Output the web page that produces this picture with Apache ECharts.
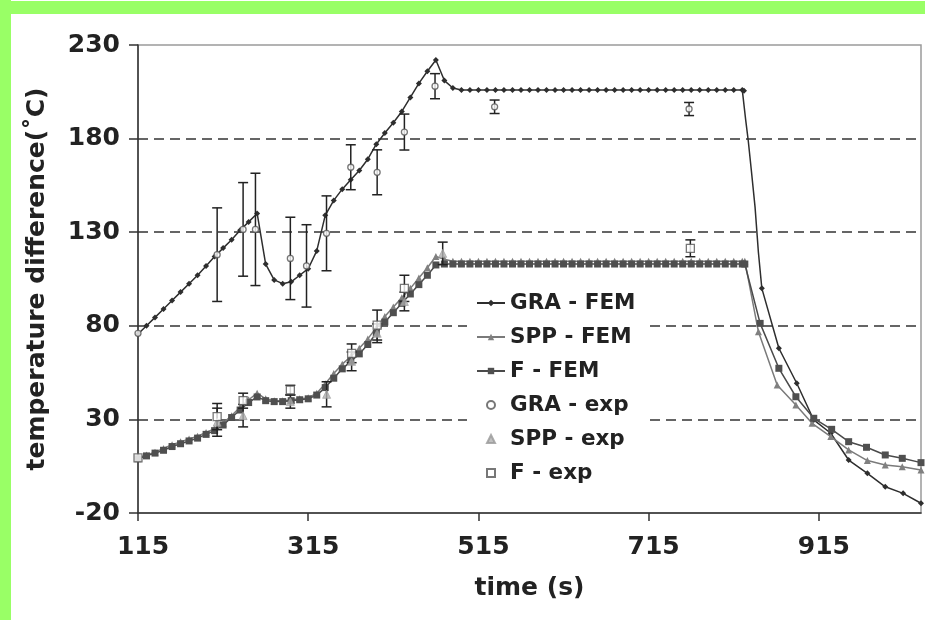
<!DOCTYPE html>
<html><head><meta charset="utf-8">
<script src="https://cdn.jsdelivr.net/npm/echarts@6/dist/echarts.min.js"></script>
<style>
html,body{margin:0;padding:0;background:#fff;}
#wrap{position:relative;width:925px;height:620px;overflow:hidden;background:#fff;}
#chart{position:absolute;left:0;top:0;width:925px;height:620px;}
.gl{position:absolute;left:0;top:0;width:11px;height:620px;background:#99ff66;}
.gt{position:absolute;left:0;top:1px;width:925px;height:13px;background:#99ff66;}
</style></head><body>
<div id="wrap"><div id="chart"></div><div class="gl"></div><div class="gt"></div></div>
<script>
// ---- axis ticks ----
const xTickLabels = [115, 315, 515, 715, 915];
const yTickLabels = [-20, 30, 80, 130, 180, 230];
const gridLineValues = [30, 80, 130, 180];

// ---- FEM curves (time grid shared for heating / plateau part) ----
const femTime = [115,125,135,145,155,165,175,185,195,205,215,225,235,245,255,265,275,285,295,305,315,325,335,345,355,365,375,385,395,405,415,425,435,445,455,465,475,485,495,505,515,525,535,545,555,565,575,585,595,605,615,625,635,645,655,665,675,685,695,705,715,725,735,745,755,765,775,785,795,805,815,825];

const graFem = [75.6,80,84.5,89,93.5,98,102.5,107,112,117,121.5,126,131,135.5,140,113,104.5,102.5,103.5,107,110.5,120,139,147,153,158,163,169,177,183,188.5,194.5,202,209.5,216,222,211,207,206,206,206,206,206,206,206,206,206,206,206,206,206,206,206,206,206,206,206,206,206,206,206,206,206,206,206,206,206,206,206,206,206,206];
const graDecayTime = [827,829,832,836,840,844,848,868,889,909,929,950,972,993,1014,1035];
const graDecay = [205.5,190,179,161.5,143.5,119,100,68,49.3,29.7,22.6,8.3,1.2,-6,-9.5,-14.8];
const graDecayMarked = [true,false,false,false,false,false,true,true,true,true,true,true,true,true,true,true];

const sppFem = [9.5,11,12.5,14.5,16.5,18,19.5,21,23,25,28,32,36.5,40.5,44,41,40,40,40.5,41,41.5,44,49,54.5,59.5,63.5,68,73,79,85,90,95,100,105.5,111,117,115.5,114.5,114.5,114.5,114.5,114.5,114.5,114.5,114.5,114.5,114.5,114.5,114.5,114.5,114.5,114.5,114.5,114.5,114.5,114.5,114.5,114.5,114.5,114.5,114.5,114.5,114.5,114.5,114.5,114.5,114.5,114.5,114.5,114.5,114.5,114.5];
const sppDecayTime = [828,844,866,888,907,929,950,972,993,1013,1035];
const sppDecay = [114.5,76.8,48.4,37.7,27.9,20.8,13.7,8,5.6,4.7,3];

const fFem = [9,10.5,12,13.5,15.5,17,18.5,20,22,24,27,31,35,39,42,40,39.5,39.5,40,40.5,41,43,47,52,57,61,65,70,76,82,87,92,97,102,107,112.5,113,113,113,113,113,113,113,113,113,113,113,113,113,113,113,113,113,113,113,113,113,113,113,113,113,113,113,113,113,113,113,113,113,113,113,113];
const fDecayTime = [828,846,868,888,909,930,950,971,993,1013,1035];
const fDecay = [113,81.3,57.3,42.1,30.6,24.7,18.1,15.1,11,9.2,6.9];

// ---- experiments (value, +/- error) ----
const graExpTime = [115,208,238.5,253,294,313,336.5,365,396,428,464,534,762.5];
const graExpVal  = [76,118,131.5,131.5,116,112,129.4,164.7,162,183.5,208,197,195.8];
const graExpErr  = [0,25,25,30,22,22,20,12,12,9.6,6.7,3.6,3.5];

const sppExpTime = [208,238.5,294,336.6,366,396,428,473];
const sppExpVal  = [28.5,32,39.5,43.4,61,76,93,118.7];
const sppExpErr  = [7.5,6,3.5,6.7,5,5,5,6];

const fExpTime = [115,208,238.5,294,366,396,428,764];
const fExpVal  = [9.5,31.5,40,45.7,65.3,80.4,100,121.4];
const fExpErr  = [0,7,4,2.5,5,8,7,4.5];

const FONT = 'DejaVu Sans';

function pairs(t, v){ return t.map((x,i)=>[x, v[i]]); }
function errData(t, v, e){
  const out = [];
  t.forEach((x,i)=>{ if (e[i] > 0) out.push([x, v[i]-e[i], v[i]+e[i]]); });
  return out;
}
function errRender(params, api){
  const x = api.value(0);
  const p1 = api.coord([x, api.value(2)]);
  const p2 = api.coord([x, api.value(1)]);
  const w = 5;
  const st = {stroke:'#222', lineWidth:1.5};
  return {type:'group', children:[
    {type:'line', shape:{x1:p1[0],y1:p1[1],x2:p2[0],y2:p2[1]}, style:st},
    {type:'line', shape:{x1:p1[0]-w,y1:p1[1],x2:p1[0]+w,y2:p1[1]}, style:st},
    {type:'line', shape:{x1:p2[0]-w,y1:p2[1],x2:p2[0]+w,y2:p2[1]}, style:st}
  ]};
}

const graData = pairs(femTime, graFem).concat(graDecayTime.map((x,i)=>{
  const d = {value:[x, graDecay[i]]};
  if (!graDecayMarked[i]) d.symbol = 'none';
  return d;
}));
const sppData = pairs(femTime, sppFem).concat(pairs(sppDecayTime, sppDecay));
const fData = pairs(femTime, fFem).concat(pairs(fDecayTime, fDecay));

const legendText = {fontFamily:FONT, fontWeight:'bold', fontSize:21.5, lineHeight:22, color:'#222'};

const chart = echarts.init(document.getElementById('chart'), null, {renderer:'canvas'});
chart.setOption({
  animation: false,
  grid: {left:138, right:4, top:45, bottom:107, show:true, borderColor:'#9a9a9a', borderWidth:1.5},
  graphic: [
    {type:'rect', z:2, silent:true, shape:{x:467, y:285, width:178, height:200}, style:{fill:'#ffffff'}}
  ],
  xAxis: {
    type:'value', min:115, max:1035,
    name:'time (s)', nameLocation:'middle', nameGap:63,
    nameTextStyle:{fontFamily:FONT, fontWeight:'bold', fontSize:25, color:'#222'},
    axisLine:{show:true, onZero:false, lineStyle:{color:'#333', width:1.5}},
    axisTick:{show:true, inside:false, length:8, customValues:xTickLabels, lineStyle:{color:'#333', width:1.5}},
    axisLabel:{customValues:xTickLabels, margin:22, padding:[0,0,0,10], fontFamily:FONT, fontWeight:'bold', fontSize:25, color:'#222'},
    splitLine:{show:false}
  },
  yAxis: {
    type:'value', min:-20, max:230,
    name:'temperature difference(˚C)', nameLocation:'middle', nameGap:88, nameRotate:90,
    nameTextStyle:{fontFamily:FONT, fontWeight:'bold', fontSize:25, color:'#222'},
    axisLine:{show:true, onZero:false, lineStyle:{color:'#333', width:1.5}},
    axisTick:{show:true, inside:false, length:9, customValues:yTickLabels, lineStyle:{color:'#333', width:1.5}},
    axisLabel:{customValues:yTickLabels, margin:18, fontFamily:FONT, fontWeight:'bold', fontSize:25, color:'#222'},
    splitLine:{show:false}
  },
  legend: [
    {
      orient:'vertical', left:476, top:292, padding:0,
      itemWidth:28, itemHeight:8, itemGap:12,
      textStyle:legendText,
      data:['GRA - FEM','SPP - FEM','F - FEM']
    },
    {
      orient:'vertical', left:486, top:394, padding:0,
      itemWidth:8, itemHeight:8, itemGap:12,
      textStyle:Object.assign({padding:[0,0,0,10]}, legendText),
      data:['GRA - exp','SPP - exp','F - exp']
    }
  ],
  series: [
    {
      name:'GRA - FEM', type:'line', data:graData, z:3,
      symbol:'diamond', symbolSize:6, showSymbol:true,
      lineStyle:{color:'#2e2e2e', width:1.5}, itemStyle:{color:'#2e2e2e'},
      markLine:{
        silent:true, symbol:'none', z:1, label:{show:false}, animation:false,
        lineStyle:{color:'#333', type:[10,6], width:1.5},
        data: gridLineValues.map(v=>({yAxis:v}))
      }
    },
    {
      name:'SPP - FEM', type:'line', data:sppData, z:3,
      symbol:'triangle', symbolSize:7,
      lineStyle:{color:'#7a7a7a', width:1.5}, itemStyle:{color:'#808080'}
    },
    {
      name:'F - FEM', type:'line', data:fData, z:3,
      symbol:'rect', symbolSize:7,
      lineStyle:{color:'#4a4a4a', width:1.5}, itemStyle:{color:'#4f4f4f'}
    },
    {type:'custom', renderItem:errRender, data:errData(graExpTime, graExpVal, graExpErr), z:4, encode:{x:0, y:[1,2]}},
    {type:'custom', renderItem:errRender, data:errData(sppExpTime, sppExpVal, sppExpErr), z:4, encode:{x:0, y:[1,2]}},
    {type:'custom', renderItem:errRender, data:errData(fExpTime, fExpVal, fExpErr), z:4, encode:{x:0, y:[1,2]}},
    {
      name:'GRA - exp', type:'scatter', data:pairs(graExpTime, graExpVal), z:5,
      symbol:'circle', symbolSize:6,
      itemStyle:{color:'#ffffff', borderColor:'#555', borderWidth:1.3}
    },
    {
      name:'SPP - exp', type:'scatter', data:pairs(sppExpTime, sppExpVal), z:5,
      symbol:'triangle', symbolSize:8,
      itemStyle:{color:'#b0b0b0', borderColor:'#999', borderWidth:0.8}
    },
    {
      name:'F - exp', type:'scatter', data:pairs(fExpTime, fExpVal), z:5,
      symbol:'rect', symbolSize:8,
      itemStyle:{color:'#ffffff', borderColor:'#555', borderWidth:1.3}
    }
  ]
});
</script>
</body></html>
